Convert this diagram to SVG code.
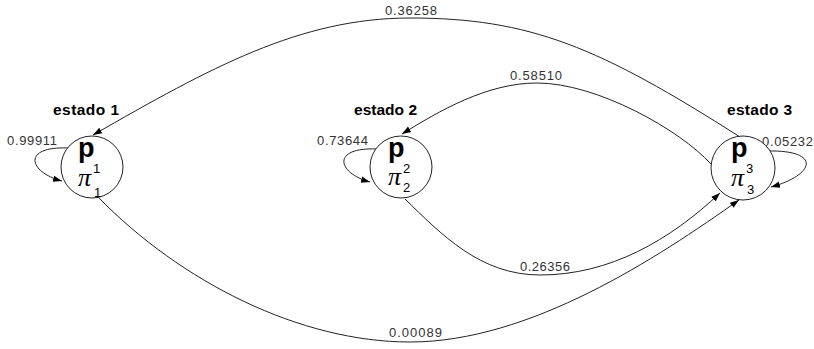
<svg xmlns="http://www.w3.org/2000/svg" width="814" height="349" viewBox="0 0 814 349">
<style>
.node{fill:#fff;stroke:#222;stroke-width:1}
.edge{fill:none;stroke:#222;stroke-width:1}
.p{font-family:"Liberation Sans",Arial,sans-serif;font-weight:bold;font-size:27px;fill:#000}
.sub{font-family:"Liberation Sans",Arial,sans-serif;font-size:13px;fill:#000}
.pi{font-family:"Liberation Serif","Times New Roman",serif;font-style:italic;font-size:26px;fill:#000}
.st{font-family:"Liberation Sans",Arial,sans-serif;font-weight:bold;font-size:15.5px;fill:#000}
.num{font-family:"Liberation Sans",Arial,sans-serif;font-size:13px;fill:#333}
</style>
<defs>
<marker id="arr" viewBox="0 0 10 10" refX="10" refY="5" markerWidth="9" markerHeight="9" markerUnits="userSpaceOnUse" orient="auto">
<path d="M0,1.5 L10,5 L0,8.5 z" fill="#000"/>
</marker>
</defs>
<g id="connectors">
<path class="edge" marker-end="url(#arr)" d="M740,137 C599,47 530,18 410,18 C300,18 210,68 93,135"/>
<path class="edge" marker-end="url(#arr)" d="M711,164 C680,130 597,83 537,83 C487,83 439,111 402,134"/>
<path class="edge" marker-end="url(#arr)" d="M405,199 C441,234 480,275 540,275 C610,275 670,240 720,193"/>
<path class="edge" marker-end="url(#arr)" d="M98,197 C181,282 300,342 410,342 C530,342 657,258 739,200"/>
<path class="edge" marker-end="url(#arr)" d="M68,148 C22,146 28,172 62,181"/>
<path class="edge" marker-end="url(#arr)" d="M377,149 C331,147 337,173 370,182"/>
<path class="edge" marker-end="url(#arr)" d="M768,151 C822,150 815,175 771,187"/>
<text class="num" x="385" y="15" textLength="52" lengthAdjust="spacing">0.36258</text>
<text class="num" x="510" y="80" textLength="52" lengthAdjust="spacing">0.58510</text>
<text class="num" x="7" y="145" textLength="50" lengthAdjust="spacing">0.99911</text>
<text class="num" x="317" y="145" textLength="51" lengthAdjust="spacing">0.73644</text>
<text class="num" x="762" y="146" textLength="51" lengthAdjust="spacing">0.05232</text>
<text class="num" x="520" y="271" textLength="50" lengthAdjust="spacing">0.26356</text>
<text class="num" x="389" y="337" textLength="53" lengthAdjust="spacing">0.00089</text>
</g>
<g id="estado1">
<text class="st" x="53" y="115" textLength="66" lengthAdjust="spacing">estado 1</text>
<circle class="node" cx="92" cy="167" r="31"/>
<text class="p" x="78" y="157">p</text>
<text class="sub" x="93" y="173">1</text>
<text class="pi" x="78" y="186">π</text>
<text class="sub" x="94" y="197">1</text>
</g>
<g id="estado2">
<text class="st" x="354" y="115" textLength="63" lengthAdjust="spacing">estado 2</text>
<circle class="node" cx="401" cy="167" r="31"/>
<text class="p" x="388" y="157">p</text>
<text class="sub" x="403" y="173">2</text>
<text class="pi" x="388" y="185">π</text>
<text class="sub" x="403" y="192">2</text>
</g>
<g id="estado3">
<text class="st" x="727" y="115" textLength="65" lengthAdjust="spacing">estado 3</text>
<circle class="node" cx="743" cy="168" r="32"/>
<text class="p" x="731" y="157">p</text>
<text class="sub" x="746" y="173">3</text>
<text class="pi" x="731" y="186">π</text>
<text class="sub" x="747" y="194">3</text>
</g>
</svg>
